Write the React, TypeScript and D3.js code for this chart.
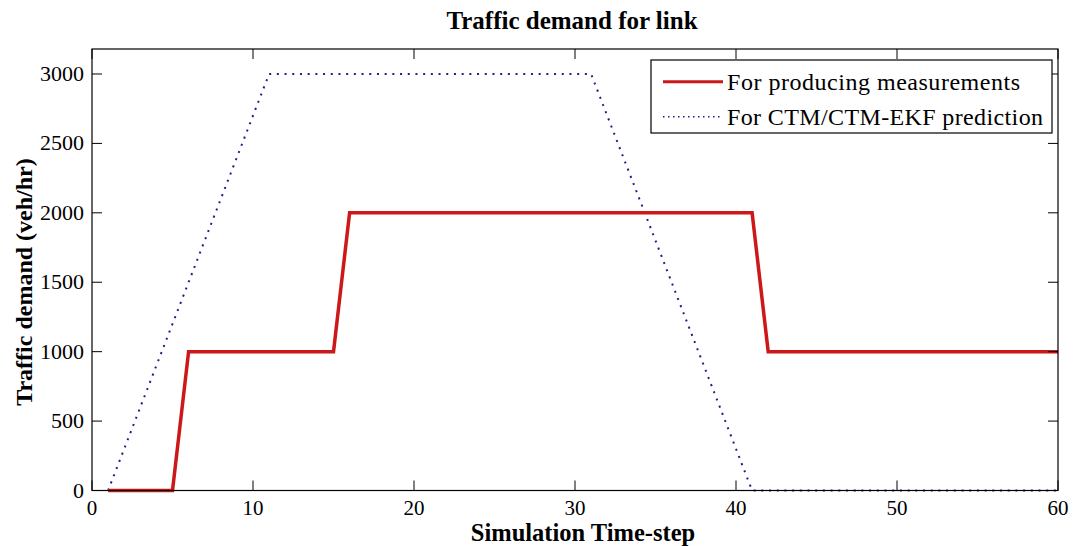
import React from "react";
import * as d3 from "d3";

// Demand profile used to produce the measurements (breakpoints)
const measSteps = [1, 5, 6, 15, 16, 41, 42, 60];
const measDemand = [0, 0, 1000, 1000, 2000, 2000, 1000, 1000];

// Demand profile fed to the CTM / CTM-EKF prediction (breakpoints)
const predSteps = [1, 11, 31, 41, 60];
const predDemand = [0, 3000, 3000, 0, 0];

const xTicks = [0, 10, 20, 30, 40, 50, 60];
const yTicks = [0, 500, 1000, 1500, 2000, 2500, 3000];

const legendLabels = ["For producing measurements", "For CTM/CTM-EKF prediction"];

const W = 1077;
const H = 546;
const M = { left: 92, right: 1058, top: 49, bottom: 490.5 };
const FONT = "'Liberation Serif', 'Times New Roman', serif";
const RED = "#cc1818";
const BLUE = "#1e1e8c";

export default function App() {
  const x = d3.scaleLinear().domain([0, 60]).range([M.left, M.right]);
  const y = d3.scaleLinear().domain([0, 3180]).range([M.bottom, M.top]);

  const line = d3
    .line<[number, number]>()
    .x((d) => x(d[0]))
    .y((d) => y(d[1]));

  const measPts = measSteps.map((s, i) => [s, measDemand[i]] as [number, number]);
  const predPts = predSteps.map((s, i) => [s, predDemand[i]] as [number, number]);

  const tickLen = 10;
  const lg = { x0: 651, x1: 1052, y0: 60, y1: 133 };
  const rows = [81.7, 116.7];

  return (
    <svg
      width={W}
      height={H}
      style={{ position: "absolute", left: 0, top: 0, background: "#fff" }}
      fontFamily={FONT}
    >
      <rect x={0} y={0} width={W} height={H} fill="#fff" />

      {/* title */}
      <text x={572} y={29} textAnchor="middle" fontSize={25} fontWeight="bold" fill="#000">
        Traffic demand for link
      </text>

      {/* data lines */}
      <path d={line(predPts) ?? ""} fill="none" stroke={BLUE} strokeWidth={2} strokeDasharray="2 5.7" />
      <path d={line(measPts) ?? ""} fill="none" stroke={RED} strokeWidth={3.5} strokeLinejoin="miter" />

      {/* axes box */}
      <rect
        x={M.left}
        y={M.top}
        width={M.right - M.left}
        height={M.bottom - M.top}
        fill="none"
        stroke="#000"
        strokeWidth={1.2}
      />

      {/* x ticks */}
      {xTicks.map((t) => (
        <g key={"x" + t}>
          <line x1={x(t)} x2={x(t)} y1={M.bottom} y2={M.bottom - tickLen} stroke="#000" />
          <line x1={x(t)} x2={x(t)} y1={M.top} y2={M.top + tickLen} stroke="#000" />
          <text x={x(t)} y={515} textAnchor="middle" fontSize={21} fill="#000">
            {t}
          </text>
        </g>
      ))}

      {/* y ticks */}
      {yTicks.map((t) => (
        <g key={"y" + t}>
          <line x1={M.left} x2={M.left + tickLen} y1={y(t)} y2={y(t)} stroke="#000" />
          <line x1={M.right} x2={M.right - tickLen} y1={y(t)} y2={y(t)} stroke="#000" />
          <text x={84} y={y(t) + 7} textAnchor="end" fontSize={22} fill="#000">
            {t}
          </text>
        </g>
      ))}

      {/* axis labels */}
      <text x={583} y={541} textAnchor="middle" fontSize={24.5} fontWeight="bold" fill="#000">
        Simulation Time-step
      </text>
      <text
        transform={`translate(32, 282) rotate(-90)`}
        textAnchor="middle"
        fontSize={24}
        fontWeight="bold"
        fill="#000"
      >
        Traffic demand (veh/hr)
      </text>

      {/* legend */}
      <rect
        x={lg.x0}
        y={lg.y0}
        width={lg.x1 - lg.x0}
        height={lg.y1 - lg.y0}
        fill="#fff"
        stroke="#000"
        strokeWidth={1.2}
      />
      <line x1={663} x2={723} y1={rows[0]} y2={rows[0]} stroke={RED} strokeWidth={3} />
      <line x1={663} x2={723} y1={rows[1]} y2={rows[1]} stroke={BLUE} strokeWidth={1.5} strokeDasharray="1.5 3.5" />
      {legendLabels.map((l, i) => (
        <text
          key={l}
          x={727}
          y={rows[i] + 8}
          fontSize={24}
          fill="#000"
          textLength={i === 0 ? 293 : 316}
          lengthAdjust="spacing"
        >
          {l}
        </text>
      ))}
    </svg>
  );
}
